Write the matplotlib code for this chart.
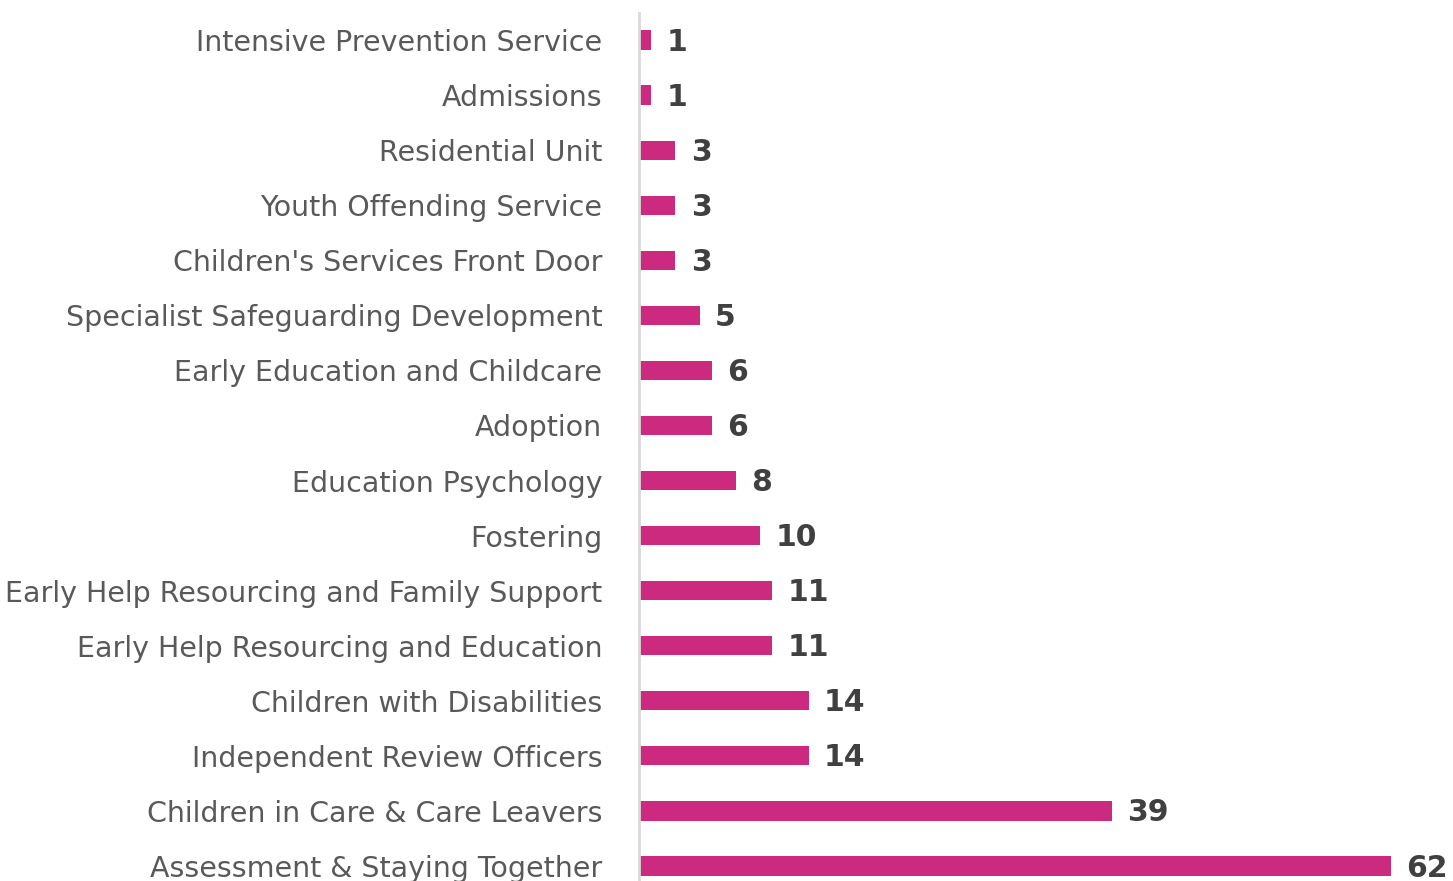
import matplotlib
matplotlib.use('Agg')
import matplotlib.pyplot as plt

# teams, top to bottom as shown
teams = ['Intensive Prevention Service', 'Admissions', 'Residential Unit',
         'Youth Offending Service', "Children's Services Front Door",
         'Specialist Safeguarding Development', 'Early Education and Childcare',
         'Adoption', 'Education Psychology', 'Fostering',
         'Early Help Resourcing and Family Support',
         'Early Help Resourcing and Education', 'Children with Disabilities',
         'Independent Review Officers', 'Children in Care & Care Leavers',
         'Assessment & Staying Together']
counts = [1, 1, 3, 3, 3, 5, 6, 6, 8, 10, 11, 11, 14, 14, 39, 62]

bar_color = '#cc2a7e'
label_color = '#595959'
value_color = '#404040'

fig = plt.figure(figsize=(14.53, 8.81), dpi=100)
ax = fig.add_axes([639 / 1453, -12.5 / 881, 800 / 1453, 1.0])

ypos = list(range(len(teams)))
ax.barh(ypos, counts, height=0.35, color=bar_color)
ax.set_ylim(len(teams) - 0.5, -0.5)
ax.set_xlim(0, 66)

ax.set_yticks(ypos)
ax.set_yticklabels(teams, fontsize=20.5, color=label_color)
ax.tick_params(axis='y', length=0, pad=26.5)
ax.set_xticks([])

for s in ['top', 'right', 'bottom']:
    ax.spines[s].set_visible(False)
ax.spines['left'].set_color('#d9d9d9')
ax.spines['left'].set_linewidth(2)

for y, v in zip(ypos, counts):
    ax.annotate(str(v), (v, y), xytext=(11, -1.5), textcoords='offset points',
                va='center', ha='left', fontsize=21.5, fontweight='bold',
                color=value_color)

fig.savefig('out.png', dpi=100)
